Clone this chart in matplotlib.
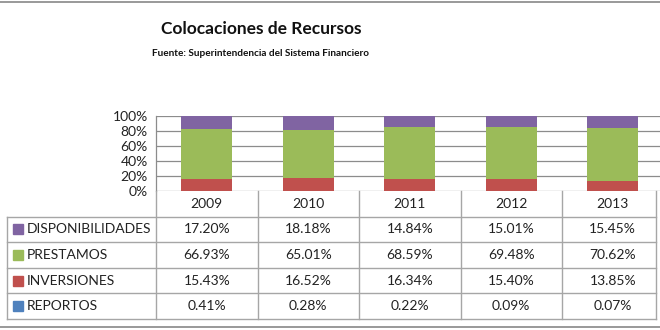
import matplotlib
matplotlib.use("Agg")
from matplotlib import pyplot as plt
from matplotlib.lines import Line2D
from matplotlib.ticker import PercentFormatter

plt.rcParams['font.family'] = ['Lato', 'DejaVu Sans']

years = ['2009', '2010', '2011', '2012', '2013']
series = ['DISPONIBILIDADES', 'PRESTAMOS', 'INVERSIONES', 'REPORTOS']
disponibilidades = [17.20, 18.18, 14.84, 15.01, 15.45]
prestamos = [66.93, 65.01, 68.59, 69.48, 70.62]
inversiones = [15.43, 16.52, 16.34, 15.40, 13.85]
reportos = [0.41, 0.28, 0.22, 0.09, 0.07]
colors = ['#8064A2', '#9BBB59', '#C0504D', '#4F81BD']

W, H = 660, 330
grid_c = '#8C8C8C'
table_c = '#A6A6A6'

fig = plt.figure(figsize=(6.6, 3.3), dpi=100)

# plot area geometry in pixels
left_px, col_px = 156, 101.5
bottom_px, top_px = 191, 116
row_px = 25.6

ax = fig.add_axes([left_px / W, (H - bottom_px) / H, 5 * col_px / W, (bottom_px - top_px) / H])
x = list(range(len(years)))
values = [disponibilidades, prestamos, inversiones, reportos]
bottom = [0] * len(years)
for vals, c in zip(values[::-1], colors[::-1]):
    ax.bar(x, vals, 0.5, bottom=bottom, color=c, zorder=3)
    bottom = [b + v for b, v in zip(bottom, vals)]

ax.set_xlim(-0.5, 4.5)
ax.set_ylim(0, 100)
ax.set_yticks([0, 20, 40, 60, 80, 100])
ax.yaxis.set_major_formatter(PercentFormatter(decimals=0))
ax.tick_params(axis='y', length=0, labelsize=10, pad=6, colors='#222222')
ax.set_xticks([])
ax.grid(axis='y', color=grid_c, lw=0.9, zorder=0)
for s in ['top', 'right', 'bottom']:
    ax.spines[s].set_visible(False)
ax.spines['left'].set_color(grid_c)
ax.spines['left'].set_linewidth(0.9)

# data table below the chart
tax = fig.add_axes([left_px / W, (H - bottom_px - 5 * row_px) / H, 5 * col_px / W, 5 * row_px / H])
tax.set_xlim(-0.5, 4.5)
tax.set_ylim(5, 0)
tax.axis('off')
lab_left = -0.5 - (left_px - 7) / col_px
right_edge = -0.5 + (656 - left_px) / col_px
for r in range(1, 6):
    tax.plot([lab_left, right_edge], [r, r], color=table_c, lw=1, clip_on=False)
tax.plot([lab_left, lab_left], [1, 5], color=table_c, lw=1, clip_on=False)
for i in range(len(years)):
    tax.plot([i - 0.5, i - 0.5], [0, 5], color=table_c, lw=1, clip_on=False)
tax.plot([right_edge, right_edge], [0, 5], color=table_c, lw=1, clip_on=False)

for i, yr in enumerate(years):
    tax.text(i, 0.5, yr, ha='center', va='center', fontsize=10, color='#222222')
for r, (name, vals, c) in enumerate(zip(series, values, colors)):
    yc = r + 1.5
    tax.plot([lab_left + 11 / col_px], [yc], marker='s', ms=6.5, color=c, clip_on=False, lw=0)
    tax.text(lab_left + 20 / col_px, yc, name, ha='left', va='center', fontsize=10, color='#222222')
    for i, v in enumerate(vals):
        tax.text(i, yc, f'{v:.2f}%', ha='center', va='center', fontsize=10, color='#222222')

fig.text(261 / W, 1 - 29 / H, 'Colocaciones de Recursos', ha='center', va='center',
         fontsize=12.5, fontweight='bold', color='#111111')
fig.text(261 / W, 1 - 53 / H, 'Fuente: Superintendencia del Sistema Financiero', ha='center', va='center',
         fontsize=7.2, fontweight='bold', color='#111111')

# outer frame lines
fig.add_artist(Line2D([0, 1], [1 - 1.5 / H, 1 - 1.5 / H], color='#888888', lw=1.2))
fig.add_artist(Line2D([0, 1], [1 - 327 / H, 1 - 327 / H], color='#888888', lw=1.2))

fig.savefig('out.png', dpi=100)
